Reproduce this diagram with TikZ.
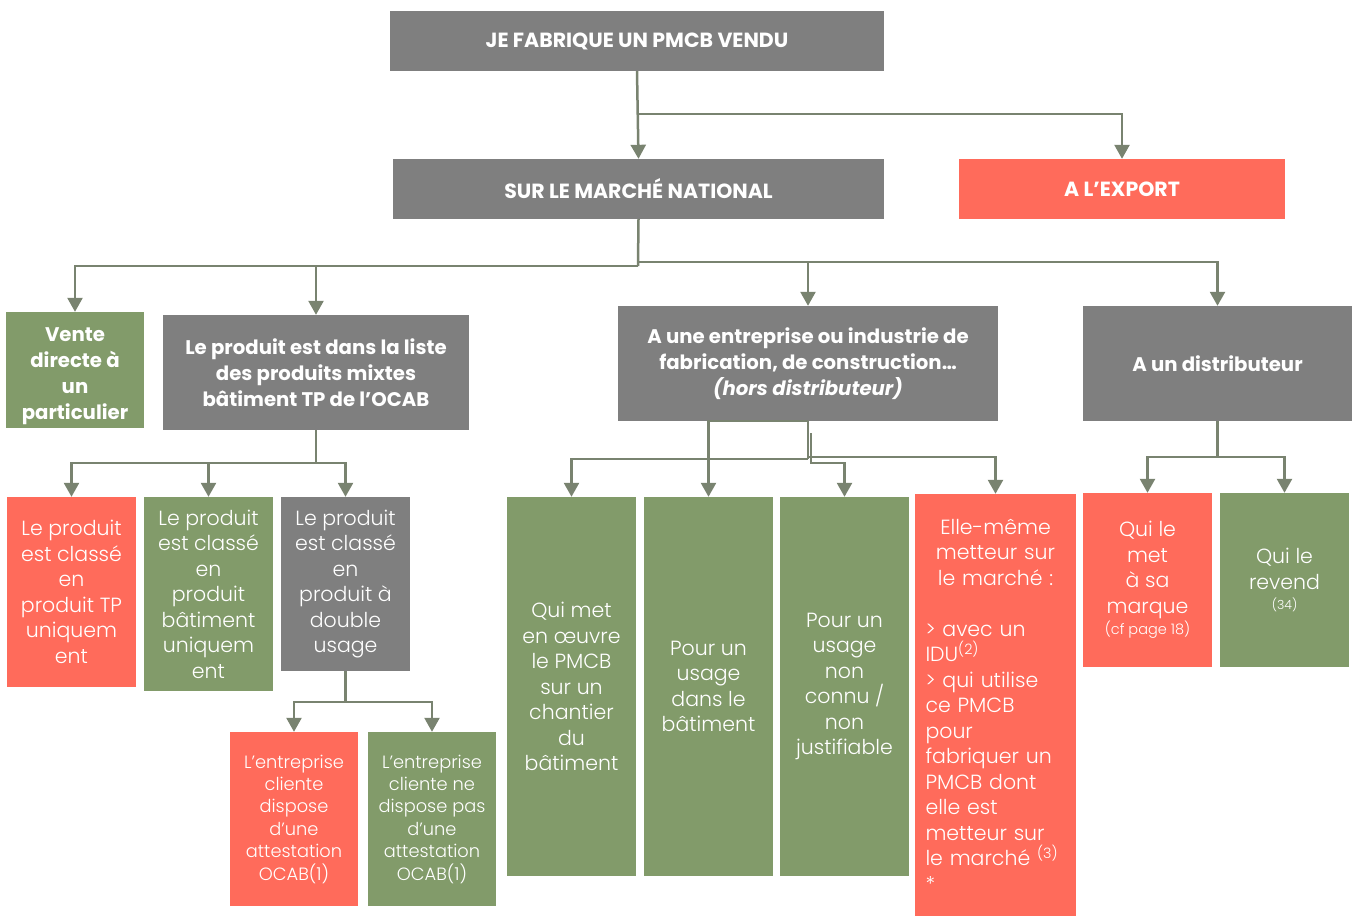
\documentclass[tikz,border=0pt]{standalone}
\usepackage{fontspec}
\setmainfont{Poppins}
\newfontfamily\lightf{Poppins Light}
\usetikzlibrary{arrows.meta}
\definecolor{boxgray}{HTML}{7F7F7F}
\definecolor{boxred}{HTML}{FF6B5B}
\definecolor{boxgreen}{HTML}{829B6A}
\definecolor{linecol}{HTML}{798370}
\begin{document}
\begin{tikzpicture}[x=1pt,y=-1pt,
  box/.style={rectangle, inner sep=0pt, text=white, align=center},
  graybox/.style={box, fill=boxgray},
  redbox/.style={box, fill=boxred},
  greenbox/.style={box, fill=boxgreen},
  titletxt/.style={font=\fontsize{20.5}{26}\selectfont\bfseries},
  boldtxt/.style={font=\fontsize{19.7}{26}\selectfont\bfseries},
  lighttxt/.style={font=\lightf\fontsize{20.5}{25.5}\selectfont},
  smalltxt/.style={font=\lightf\fontsize{17.8}{22.4}\selectfont},
  conn/.style={draw=linecol, line width=2.5pt, -{Triangle[width=15pt,length=14pt]}},
  plain/.style={draw=linecol, line width=2.5pt}
]
\useasboundingbox (0,0) rectangle (1358,916);

% level 1-2
\node[graybox, titletxt, minimum width=494pt, minimum height=60pt] (top) at (637,41) {JE FABRIQUE UN PMCB VENDU};
\node[graybox, titletxt, minimum width=491pt, minimum height=60pt] (nat) at (638.5,189) {SUR LE MARCHÉ NATIONAL};
\node[redbox, titletxt, minimum width=326pt, minimum height=60pt] (exp) at (1122,189) {A L’EXPORT};

% level 3
\node[greenbox, boldtxt, minimum width=138pt, minimum height=116pt] (vente) at (75,370) {\rule{0pt}{27pt}Vente\\directe à\\un\\particulier};
\node[graybox, boldtxt, minimum width=306pt, minimum height=115pt] (liste) at (316,372.5) {Le produit est dans la liste\\des produits mixtes\\bâtiment TP de l’OCAB};
\node[graybox, boldtxt, minimum width=380pt, minimum height=115pt] (entr) at (808,363.5) {A une entreprise ou industrie de\\fabrication, de construction…\\\textit{(hors distributeur)}};
\node[graybox, boldtxt, minimum width=269pt, minimum height=115pt] (dist) at (1217.5,363.5) {A un distributeur};

% level 4 left
\node[redbox, lighttxt, minimum width=129pt, minimum height=190pt] (tp) at (71.5,592) {Le produit\\est classé\\en\\produit TP\\uniquem\\ent};
\node[greenbox, lighttxt, minimum width=129pt, minimum height=194pt] (bat) at (208.5,594) {Le produit\\est classé\\en\\produit\\bâtiment\\uniquem\\ent};
\node[graybox, lighttxt, minimum width=129pt, minimum height=174pt] (dbl) at (345.5,584) {Le produit\\est classé\\en\\produit à\\double\\usage};
\node[redbox, smalltxt, minimum width=128pt, minimum height=174pt] (disp) at (294,819) {L’entreprise\\cliente\\dispose\\d’une\\attestation\\OCAB(1)};
\node[greenbox, smalltxt, minimum width=128pt, minimum height=174pt] (nedisp) at (432,819) {L’entreprise\\cliente ne\\dispose pas\\d’une\\attestation\\OCAB(1)};

% level 4 middle
\node[greenbox, lighttxt, minimum width=129pt, minimum height=379pt] (oeuvre) at (571.5,686.5) {Qui met\\en œuvre\\le PMCB\\sur un\\chantier\\du\\bâtiment};
\node[greenbox, lighttxt, minimum width=129pt, minimum height=379pt] (usage) at (708.5,686.5) {Pour un\\usage\\dans le\\bâtiment};
\node[greenbox, lighttxt, minimum width=129pt, minimum height=379pt] (nonconnu) at (844.5,686.5) {Pour un\\usage\\non\\connu /\\non\\justifiable};
\node[redbox, lighttxt, minimum width=161pt, minimum height=422pt, text width=140pt, align=left] (elle) at (995.5,705) {{\centering Elle-même\\metteur sur\\le marché :\par}\vspace{25.5pt}%
> avec un\\IDU\textsuperscript{(2)}\\> qui utilise\\ce PMCB\\pour\\fabriquer un\\PMCB dont\\elle est\\metteur sur\\le marché \textsuperscript{(3)}\\{}*};

% level 4 right
\node[redbox, lighttxt, minimum width=129pt, minimum height=174pt] (marque) at (1147.5,580) {Qui le\\met\\à sa\\marque\\[-4pt]{\fontsize{14.5}{16}\selectfont (cf page 18)}};
\node[greenbox, lighttxt, minimum width=129pt, minimum height=174pt] (revend) at (1284.5,580) {Qui le\\revend\\[-5pt]{\fontsize{12.5}{14}\selectfont (34)}};

% junctions
\coordinate (j1) at (637,114);
\coordinate (j2) at (638,266);
\coordinate (j3) at (638,262);
\coordinate (j4) at (316,463);
\coordinate (j5) at (345.5,702);
\coordinate (j6) at (808,459);
\coordinate (j7) at (811,433);
\coordinate (j7b) at (811,463);
\coordinate (j8) at (808,457);
\coordinate (j9) at (1217.5,457);

% connectors
\draw[conn] (top.south) -- (nat.north);
\draw[conn] (j1) -| (exp.north);
\draw[plain] (nat.south) -- (j2);
\draw[conn] (j2) -| (vente.north);
\draw[conn] (j2) -| (liste.north);
\draw[conn] (j3) -| (entr.north);
\draw[conn] (j3) -| (dist.north);
\draw[plain] (liste.south) -- (j4);
\draw[conn] (j4) -| (tp.north);
\draw[conn] (j4) -| (bat.north);
\draw[conn] (j4) -| (dbl.north);
\draw[plain] (dbl.south) -- (j5);
\draw[conn] (j5) -| (disp.north);
\draw[conn] (j5) -| (nedisp.north);
\draw[plain] (entr.south) -- (j6);
\draw[conn] (j6) -| (oeuvre.north);
\draw[conn] (entr.south) -| (usage.north);
\draw[conn] (j7) -- (j7b) -| (nonconnu.north);
\draw[conn] (j8) -| (elle.north);
\draw[plain] (dist.south) -- (j9);
\draw[conn] (j9) -| (marque.north);
\draw[conn] (j9) -| (revend.north);
\end{tikzpicture}
\end{document}
